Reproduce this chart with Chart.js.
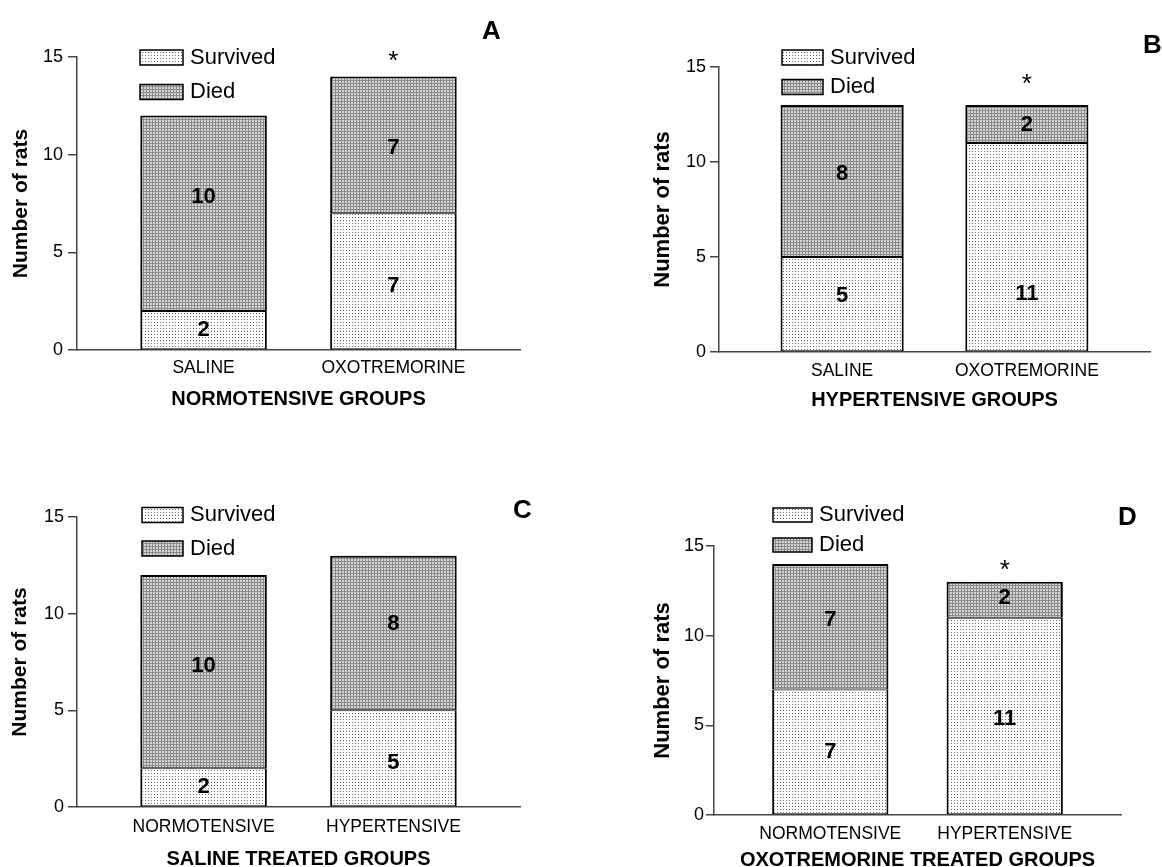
<!DOCTYPE html>
<html><head><meta charset="utf-8">
<script src="https://cdn.jsdelivr.net/npm/chart.js@4/dist/chart.umd.min.js"></script>
<style>
html,body{margin:0;padding:0;background:#fff;overflow:hidden;width:1162px;height:867px;}
canvas{position:absolute;display:block;}
</style></head><body>
<canvas id="cA"></canvas>
<canvas id="cB"></canvas>
<canvas id="cC"></canvas>
<canvas id="cD"></canvas>
<script>
// ---------- DATA ----------
const seriesLabels = ['Survived', 'Died'];
const yTickValues = [0, 5, 10, 15];
const yAxisTitle = 'Number of rats';

const categoriesA = ['SALINE', 'OXOTREMORINE'];
const survivedA = [2, 7];
const diedA = [10, 7];
const marksA = ['', '*'];
const titleA = 'NORMOTENSIVE GROUPS';

const categoriesB = ['SALINE', 'OXOTREMORINE'];
const survivedB = [5, 11];
const diedB = [8, 2];
const marksB = ['', '*'];
const titleB = 'HYPERTENSIVE GROUPS';

const categoriesC = ['NORMOTENSIVE', 'HYPERTENSIVE'];
const survivedC = [2, 5];
const diedC = [10, 8];
const marksC = ['', ''];
const titleC = 'SALINE TREATED GROUPS';

const categoriesD = ['NORMOTENSIVE', 'HYPERTENSIVE'];
const survivedD = [7, 11];
const diedD = [7, 2];
const marksD = ['', '*'];
const titleD = 'OXOTREMORINE TREATED GROUPS';

// ---------- STYLE / LAYOUT ----------
const FONT = '"Liberation Sans", Arial, Helvetica, sans-serif';
const layoutA = {left:0, top:0, w:581, h:430, area:{l:77, r:520, t:57, b:350}, yTitleX:21, yTitleSize:21, xTitleY:399, xTickPad:7.5, yTickPad:5, yTickLen:9,
  legend:{x:140, rows:[57.5, 92], bw:43, bh:15, tx:190}, letter:{x:482, y:39}, starDy:-25, labelDy:[[0,5],[-16,3]]};
const layoutB = {left:581, top:0, w:581, h:430, area:{l:719, r:1150, t:67, b:352}, yTitleX:663, yTitleSize:22, xTitleY:400, xTickPad:8.5, yTickPad:4, yTickLen:9,
  legend:{x:782, rows:[57.5, 87], bw:41, bh:15, tx:830}, letter:{x:1143, y:53}, starDy:-30, labelDy:[[-8,47],[-7,1]]};
const layoutC = {left:0, top:430, w:581, h:447, area:{l:77, r:520, t:517, b:807}, yTitleX:20, yTitleSize:21, xTitleY:859, xTickPad:9.5, yTickPad:4, yTickLen:9,
  legend:{x:142, rows:[515, 548.5], bw:41, bh:15, tx:190}, letter:{x:513, y:518}, starDy:-25, labelDy:[[0,5],[-6,-9]]};
const layoutD = {left:581, top:430, w:581, h:447, area:{l:714, r:1121, t:546, b:815}, yTitleX:663, yTitleSize:22, xTitleY:860, xTickPad:9, yTickPad:2, yTickLen:8,
  legend:{x:773, rows:[515, 545], bw:39, bh:14, tx:819}, letter:{x:1118, y:525}, starDy:-21, labelDy:[[0,3],[-7,-2]]};

function makePattern(kind) {
  const t = document.createElement('canvas');
  t.width = 3; t.height = 3;
  const g = t.getContext('2d');
  if (kind === 'survived') {
    g.fillStyle = '#ffffff'; g.fillRect(0,0,3,3);
    g.fillStyle = '#6a6a6a'; g.fillRect(1,1,1,1);
  } else {
    g.fillStyle = '#8a8a8a'; g.fillRect(0,0,3,3);
    g.fillStyle = '#d6d6d6'; g.fillRect(0,0,2,2);
  }
  return g.createPattern(t, 'repeat');
}

function buildPanel(canvasId, letter, cats, surv, died, marks, title, L) {
  const c = document.getElementById(canvasId);
  c.width = L.w; c.height = L.h;
  c.style.left = L.left + 'px'; c.style.top = L.top + 'px';
  c.style.width = L.w + 'px'; c.style.height = L.h + 'px';
  const ox = L.left, oy = L.top;
  const pSurv = makePattern('survived');
  const pDied = makePattern('died');

  const decor = {
    id: 'decor' + letter,
    afterDatasetsDraw(chart) {
      const ctx = chart.ctx;
      ctx.save();
      ctx.fillStyle = '#000';
      ctx.textAlign = 'center';
      ctx.textBaseline = 'middle';
      ctx.font = 'bold 22px ' + FONT;
      chart.data.datasets.forEach((ds, di) => {
        const meta = chart.getDatasetMeta(di);
        meta.data.forEach((el, j) => {
          const dy = L.labelDy[di][j] || 0;
          ctx.fillText(String(ds.data[j].y), el.x, (el.y + el.base) / 2 + dy);
        });
      });
      const topMeta = chart.getDatasetMeta(chart.data.datasets.length - 1);
      ctx.font = '26px ' + FONT;
      marks.forEach((m, j) => {
        if (!m) return;
        const el = topMeta.data[j];
        ctx.fillText(m, el.x, el.y + L.starDy + 10);
      });
      // legend
      ctx.textAlign = 'left';
      ctx.font = '22px ' + FONT;
      chart.data.datasets.forEach((ds, di) => {
        const cy = L.legend.rows[di] - oy;
        const bx = L.legend.x - ox;
        ctx.fillStyle = ds.backgroundColor;
        ctx.fillRect(bx, cy - L.legend.bh / 2, L.legend.bw, L.legend.bh);
        ctx.strokeStyle = '#000';
        ctx.lineWidth = 1.5;
        ctx.strokeRect(bx, cy - L.legend.bh / 2, L.legend.bw, L.legend.bh);
        ctx.fillStyle = '#000';
        ctx.fillText(ds.label, L.legend.tx - ox, cy);
      });
      // panel letter
      ctx.font = 'bold 26px ' + FONT;
      ctx.textBaseline = 'alphabetic';
      ctx.fillText(letter, L.letter.x - ox, L.letter.y - oy);
      ctx.restore();
    }
  };

  const mk = (vals) => vals.map((v, i) => ({x: i, y: v}));
  return new Chart(c, {
    type: 'bar',
    data: {
      datasets: [
        {label: seriesLabels[0], data: mk(surv), backgroundColor: pSurv, borderColor: '#000',
         borderWidth: {top: 1, left: 2, right: 2, bottom: 1}, borderSkipped: false, stack: 's',
         barPercentage: 2/3, categoryPercentage: 1},
        {label: seriesLabels[1], data: mk(died), backgroundColor: pDied, borderColor: '#000',
         borderWidth: {top: 2, left: 2, right: 2, bottom: 1}, borderSkipped: false, stack: 's',
         barPercentage: 2/3, categoryPercentage: 1}
      ]
    },
    options: {
      responsive: false,
      animation: false,
      devicePixelRatio: 1,
      events: [],
      layout: {padding: {left: 0, top: L.area.t - oy, right: (ox + L.w) - L.area.r, bottom: 0}},
      plugins: {legend: {display: false}, tooltip: {enabled: false}, title: {display: false}},
      scales: {
        x: {
          type: 'linear', position: 'bottom', min: -2/3, max: 5/3, offset: false,
          afterFit: (s) => { s.height = (oy + L.h) - L.area.b; },
          afterBuildTicks: (s) => { s.ticks = cats.map((_, i) => ({value: i})); },
          ticks: {callback: (v) => cats[v] !== undefined ? cats[v] : '', font: {family: FONT, size: 17.5},
                  color: '#000', padding: L.xTickPad, maxRotation: 0, autoSkip: false},
          grid: {display: false, drawTicks: false, offset: false},
          border: {display: true, color: '#444', width: 1.5},
          title: {display: true, text: title, font: {family: FONT, size: 20, weight: 'bold'}, color: '#000',
                  padding: {top: 0, bottom: (oy + L.h) - L.xTitleY - 12}}
        },
        y: {
          type: 'linear', position: 'left', min: 0, max: 15, stacked: true,
          afterFit: (s) => { s.width = L.area.l - ox; },
          afterBuildTicks: (s) => { s.ticks = yTickValues.map(v => ({value: v})); },
          ticks: {font: {family: FONT, size: 18}, color: '#000', padding: L.yTickPad},
          grid: {drawOnChartArea: false, drawTicks: true, tickLength: L.yTickLen, color: '#444', lineWidth: 1.5},
          border: {display: true, color: '#444', width: 1.5},
          title: {display: true, text: yAxisTitle, font: {family: FONT, size: L.yTitleSize, weight: 'bold'}, color: '#000',
                  padding: {top: (L.yTitleX - ox) - L.yTitleSize * 0.6, bottom: 0}}
        }
      }
    },
    plugins: [decor]
  });
}

buildPanel('cA', 'A', categoriesA, survivedA, diedA, marksA, titleA, layoutA);
buildPanel('cB', 'B', categoriesB, survivedB, diedB, marksB, titleB, layoutB);
buildPanel('cC', 'C', categoriesC, survivedC, diedC, marksC, titleC, layoutC);
buildPanel('cD', 'D', categoriesD, survivedD, diedD, marksD, titleD, layoutD);
</script>
</body></html>
